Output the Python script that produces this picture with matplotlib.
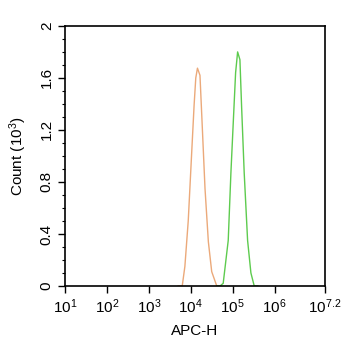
import matplotlib
matplotlib.use("Agg")
import matplotlib.pyplot as plt
import numpy as np
from matplotlib.ticker import MultipleLocator, LogLocator, NullFormatter

plt.rcParams["font.family"] = ["Liberation Sans", "DejaVu Sans"]
plt.rcParams["mathtext.fontset"] = "custom"
plt.rcParams["mathtext.rm"] = "Liberation Sans"
plt.rcParams["mathtext.it"] = "Liberation Sans"

# ── data (x as log10 of APC-H, y in thousands of events) ─────────────────────
orange_log = [3.70, 3.797, 3.86, 3.94, 4.02, 4.08, 4.12, 4.16, 4.22, 4.27,
              4.34, 4.42, 4.50, 4.62, 4.70]
orange_cnt = [0.0, 0.0, 0.15, 0.50, 1.01, 1.39, 1.60, 1.675, 1.62, 1.26,
              0.75, 0.34, 0.11, 0.0, 0.0]

green_log = [4.62, 4.70, 4.774, 4.894, 4.958, 5.013, 5.070, 5.118, 5.173,
             5.213, 5.275, 5.356, 5.435, 5.514, 5.60]
green_cnt = [0.0, 0.0, 0.02, 0.35, 0.87, 1.25, 1.64, 1.80, 1.74,
             1.38, 0.87, 0.35, 0.10, 0.0, 0.0]

xtick_exp = [1, 2, 3, 4, 5, 6, 7.2]
xtick_lbl = ["10$^{1}$", "10$^{2}$", "10$^{3}$", "10$^{4}$", "10$^{5}$",
             "10$^{6}$", "10$^{7.2}$"]
ytick_val = [0, 0.4, 0.8, 1.2, 1.6, 2]
ytick_lbl = ["0", "0.4", "0.8", "1.2", "1.6", "2"]

# ── plot ──────────────────────────────────────────────────────────────────────
fig = plt.figure(figsize=(3.42, 3.5), dpi=100)
ax = fig.add_axes([0.190, 0.183, 0.760, 0.743])

ax.plot(10 ** np.array(orange_log), orange_cnt, color="#EBA97A", lw=1.0)
ax.plot(10 ** np.array(green_log), green_cnt, color="#5DCB4E", lw=1.0)

ax.set_xscale("log")
ax.set_xlim(10, 10 ** 7.2)
ax.set_ylim(0, 2)

ax.set_xticks([10 ** e for e in xtick_exp])
ax.set_xticklabels(xtick_lbl, fontsize=11)
ax.xaxis.set_minor_locator(LogLocator(base=10, subs=np.arange(2, 10)))
ax.xaxis.set_minor_formatter(NullFormatter())

ax.set_yticks(ytick_val)
ax.set_yticklabels(ytick_lbl, fontsize=11, rotation=90, va="center")
ax.yaxis.set_minor_locator(MultipleLocator(0.1))

ax.tick_params(which="major", direction="out", length=5, width=1, pad=3)
ax.tick_params(which="minor", direction="out", length=2.5, width=0.8)
for s in ax.spines.values():
    s.set_linewidth(1.2)

ax.set_xlabel("APC-H", fontsize=11, labelpad=6)
ax.set_ylabel("Count (10$^{3}$)", fontsize=11, labelpad=8)

plt.savefig("out.png", dpi=100)
